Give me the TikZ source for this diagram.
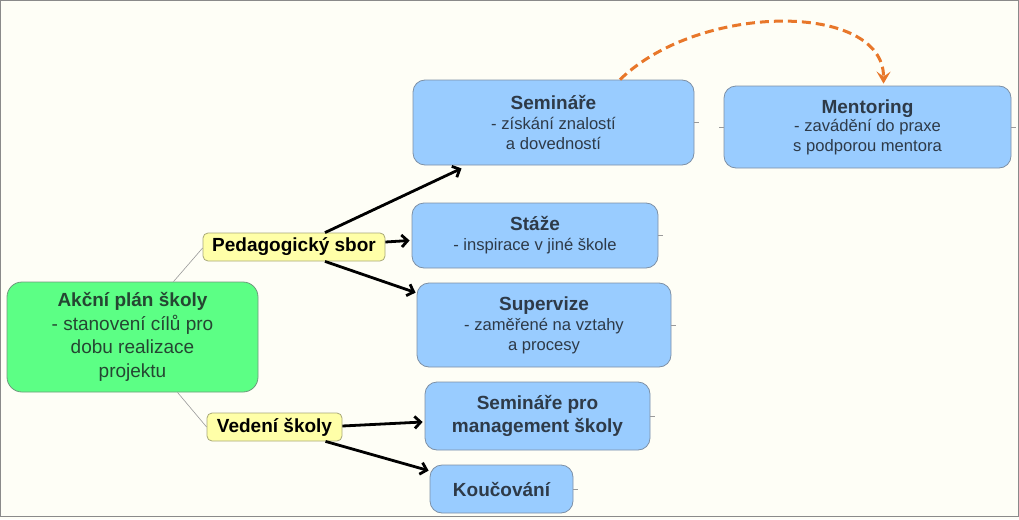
\documentclass[tikz,border=0pt]{standalone}
\usepackage{fontspec}
\setmainfont{Liberation Sans}
\usetikzlibrary{arrows.meta,calc}
\definecolor{bgc}{HTML}{FEFEF6}
\definecolor{framec}{HTML}{8A8A8A}
\definecolor{greenf}{HTML}{5CFF85}
\definecolor{greend}{HTML}{6E9A7C}
\definecolor{greent}{HTML}{254632}
\definecolor{yellowf}{HTML}{FFFFA8}
\definecolor{yellowd}{HTML}{A8A878}
\definecolor{bluef}{HTML}{99CCFF}
\definecolor{blued}{HTML}{7D90A6}
\definecolor{bluet}{HTML}{2E3A48}
\definecolor{orangec}{HTML}{E8772A}
\definecolor{thinc}{HTML}{9A9A9A}
\newcommand{\ttlfont}{\fontsize{19}{20}\selectfont\bfseries}
\newcommand{\subfont}{\fontsize{16.6}{20}\selectfont}
\tikzset{
  box/.style={draw=blued, line width=0.8pt, fill=bluef, rounded corners=12pt, align=center, text=bluet, inner sep=0pt, font=\subfont},
  mainbox/.style={draw=greend, line width=0.8pt, fill=greenf, rounded corners=15pt, align=center, text=greent, inner sep=0pt, font=\fontsize{19}{23.5}\selectfont},
  tag/.style={draw=yellowd, line width=0.8pt, fill=yellowf, rounded corners=5pt, align=center, text=black, inner sep=0pt, font=\fontsize{19}{20}\selectfont\bfseries},
  arr/.style={line width=2.8pt, -{Straight Barb[length=6pt,width=12pt]}, black},
  thin/.style={draw=thinc, line width=0.6pt},
  stub/.style={draw=thinc, line width=0.6pt},
}
\begin{document}
\begin{tikzpicture}[x=1pt,y=-1pt]
\useasboundingbox (0,0) rectangle (1019,519);
\fill[bgc] (0,0) rectangle (1019,519);
\draw[framec, line width=1pt] (0.5,0.5) rectangle (1018.5,516.5);

\node[mainbox, minimum width=251pt, minimum height=110pt] (akc) at (132.5,337)
  {{\bfseries Akční plán školy}\\ - stanovení cílů pro\\ dobu realizace\\ projektu};
\node[tag, minimum width=182pt, minimum height=28pt] (ped) at (294,247) {Pedagogický sbor};
\node[tag, minimum width=135pt, minimum height=28pt] (ved) at (274.5,427) {Vedení školy};

\node[box, minimum width=281pt, minimum height=85pt] (sem) at (553.5,122.5)
  {{\ttlfont Semináře}\\ - získání znalostí\\ a dovedností};
\node[box, minimum width=287pt, minimum height=82pt] (ment) at (867.5,127)
  {{\ttlfont Mentoring}\\[-2pt] - zavádění do praxe\\ s podporou mentora};
\node[box, minimum width=246pt, minimum height=65pt] (staze) at (535,235.5)
  {{\ttlfont Stáže}\\ - inspirace v jiné škole};
\node[box, minimum width=254pt, minimum height=84pt] (superv) at (544,325)
  {{\ttlfont Supervize}\\ - zaměřené na vztahy\\ a procesy};
\node[box, minimum width=225pt, minimum height=68pt, font=\fontsize{19}{23}\selectfont\bfseries] (semman) at (537.5,416)
  {Semináře pro\\ management školy};
\node[box, minimum width=143pt, minimum height=48pt] (kouc) at (501.5,489)
  {{\ttlfont Koučování}};

% thin links
\draw[thin] ([xshift=41pt]akc.north) -- ([yshift=-1pt]ped.west);
\draw[thin] ([xshift=45pt]akc.south) -- (ved.west);

% stubs
\coordinate (s1) at ($(sem.east)+(5,0)$);
\coordinate (s2) at ($(ment.west)+(-5,0)$);
\coordinate (s3) at ($(ment.east)+(5,0)$);
\coordinate (s4) at ($(staze.east)+(5,0)$);
\coordinate (s5) at ($(superv.east)+(5,0)$);
\coordinate (s6) at ($(semman.east)+(5,0)$);
\coordinate (s7) at ($(kouc.east)+(5,0)$);
\draw[stub] (sem.east) -- (s1);
\draw[stub] (ment.west) -- (s2);
\draw[stub] (ment.east) -- (s3);
\draw[stub] (staze.east) -- (s4);
\draw[stub] (superv.east) -- (s5);
\draw[stub] (semman.east) -- (s6);
\draw[stub] (kouc.east) -- (s7);

% arrows
\draw[arr] ([xshift=31pt]ped.north) -- ([xshift=-92pt,yshift=-3pt]sem.south);
\draw[arr] ([yshift=5pt]ped.east) -- ([xshift=-2pt,yshift=-5pt]staze.west);
\draw[arr] ([xshift=31pt]ped.south) -- ([xshift=-1pt,yshift=-10pt]superv.north west);
\draw[arr] ([yshift=1pt]ved.east) -- ([xshift=-2pt,yshift=-6pt]semman.west);
\draw[arr] ([xshift=51pt]ved.south) -- ([xshift=-1pt,yshift=-6pt]kouc.north west);

% orange dashed
\draw[orangec, line width=3pt, dash pattern=on 9pt off 5pt,
  -{Stealth[length=12pt,width=14pt,inset=5pt]}]
  ([xshift=66.5pt]sem.north) .. controls (700,2) and (884,2) .. ([xshift=16pt,yshift=2pt]ment.north);
\end{tikzpicture}
\end{document}
